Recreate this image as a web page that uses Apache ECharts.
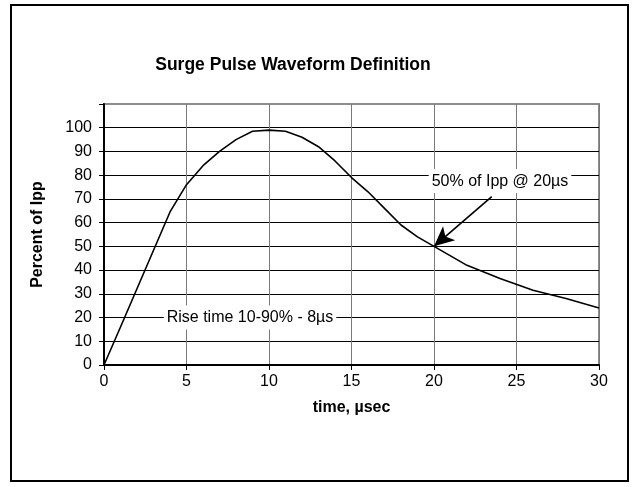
<!DOCTYPE html>
<html>
<head>
<meta charset="utf-8">
<script src="https://cdn.jsdelivr.net/npm/echarts@6/dist/echarts.min.js"></script>
<style>
  html, body { margin: 0; padding: 0; background: #fff; }
  #chart { width: 632px; height: 487px; }
</style>
</head>
<body>
<div id="chart"></div>
<script>
// time (µs) and percent of Ipp
const timeUs = [0, 1, 4, 5, 6, 7, 8, 9, 10, 11, 12, 13, 14, 15, 16, 17, 18, 19, 20, 22, 24, 26, 28, 30];
const percentIpp = [0, 16, 64.5, 76, 84, 90, 95, 98.5, 99, 98.5, 96, 92, 86, 79, 73, 66, 59, 54, 50, 42, 36.5, 31.5, 28, 24];

// annotations
const riseNote = { text: 'Rise time 10-90% - 8µs', at: [8.85, 20] };
const halfNote = { text: '50% of Ipp @ 20µs', at: [24, 77.5] };
const arrowFrom = [23.5, 71];
const arrowTo = [20, 50];

const chart = echarts.init(document.getElementById('chart'));

const font = 'Arial, "Liberation Sans", sans-serif';
const yMax = 110;
// last split line sits on the grey plot border
const hLineColors = [];
for (let v = 0; v <= yMax; v += 10) hLineColors.push(v === yMax ? '#8c8c8c' : '#000');

const noteLabel = {
    show: true,
    position: 'inside',
    color: '#000',
    fontSize: 16,
    fontFamily: font,
    backgroundColor: '#fff',
    padding: [4, 3, 4, 3]
};

const option = {
    animation: false,
    backgroundColor: '#fff',
    title: {
        text: 'Surge Pulse Waveform Definition',
        left: 288,
        textAlign: 'center',
        top: 51,
        textStyle: { fontFamily: font, fontSize: 17.5, fontWeight: 'bold', color: '#000' }
    },
    grid: {
        left: 104, right: 33, top: 104, bottom: 122,
        show: true,
        borderColor: '#8c8c8c',
        borderWidth: 2
    },
    xAxis: {
        type: 'value',
        min: 0, max: 30, interval: 5,
        name: 'time, µsec',
        nameLocation: 'middle',
        nameGap: 35,
        nameTextStyle: { fontFamily: font, fontSize: 16, fontWeight: 'bold', color: '#000' },
        axisLine: { lineStyle: { color: '#000', width: 2 } },
        axisTick: { show: true, length: 5, lineStyle: { color: '#000' } },
        axisLabel: { fontFamily: font, fontSize: 16, color: '#000', margin: 9 },
        splitLine: { show: true, lineStyle: { color: '#7a7a7a', width: 1 } }
    },
    yAxis: {
        type: 'value',
        min: 0, max: yMax, interval: 10,
        name: 'Percent of Ipp',
        nameLocation: 'middle',
        nameGap: 58,
        nameRotate: 90,
        nameTextStyle: { fontFamily: font, fontSize: 16, fontWeight: 'bold', color: '#000' },
        axisLine: { lineStyle: { color: '#000', width: 2 } },
        axisTick: { show: true, length: 5, lineStyle: { color: '#000' } },
        axisLabel: {
            fontFamily: font, fontSize: 16, color: '#000', margin: 12,
            formatter: v => (v === yMax ? '' : v)
        },
        splitLine: { show: true, lineStyle: { color: hLineColors, width: 1 } }
    },
    graphic: [
        {
            type: 'rect',
            shape: { x: 11, y: 5, width: 617, height: 476 },
            style: { fill: 'none', stroke: '#000', lineWidth: 2 },
            silent: true
        }
    ],
    series: [
        {
            type: 'line',
            data: timeUs.map((t, i) => [t, percentIpp[i]]),
            symbol: 'none',
            lineStyle: { color: '#000', width: 1.6 },
            z: 5,
            markPoint: {
                symbol: 'rect',
                symbolSize: 0,
                silent: true,
                label: noteLabel,
                data: [
                    { coord: riseNote.at, value: riseNote.text, label: { formatter: riseNote.text } },
                    { coord: halfNote.at, value: halfNote.text, label: { formatter: halfNote.text } }
                ]
            },
            markLine: {
                silent: true,
                symbol: ['none', 'arrow'],
                symbolSize: [14, 20],
                label: { show: false },
                lineStyle: { color: '#000', width: 1.6, type: 'solid' },
                data: [[{ coord: arrowFrom }, { coord: arrowTo }]]
            }
        }
    ]
};

chart.setOption(option);
</script>
</body>
</html>
